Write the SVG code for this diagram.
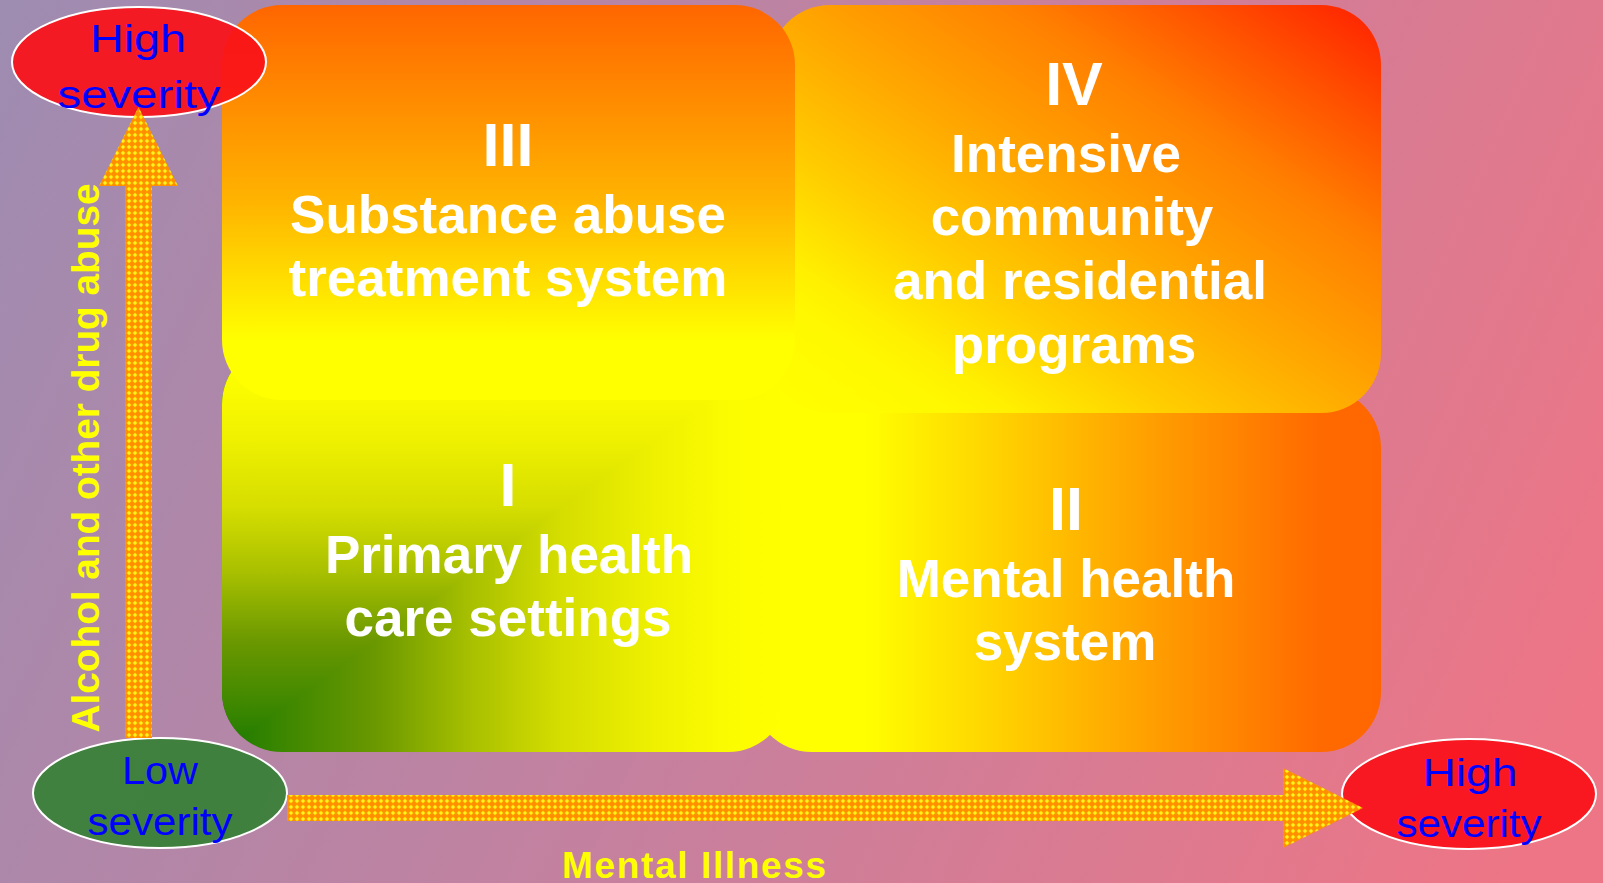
<svg xmlns="http://www.w3.org/2000/svg" width="1603" height="883" viewBox="0 0 1603 883">
<defs>
  <linearGradient id="bg" gradientUnits="userSpaceOnUse" x1="0" y1="0" x2="1603" y2="700">
    <stop offset="0" stop-color="#9E8CB1"/>
    <stop offset="0.5" stop-color="#C4819F"/>
    <stop offset="1" stop-color="#EE7585"/>
  </linearGradient>
  <linearGradient id="g3" x1="0" y1="0" x2="0" y2="1">
    <stop offset="0" stop-color="#FF6600"/>
    <stop offset="0.5" stop-color="#FFB400"/>
    <stop offset="0.85" stop-color="#FFFF00"/>
    <stop offset="1" stop-color="#FFFF00"/>
  </linearGradient>
  <linearGradient id="g4" x1="0" y1="1" x2="1" y2="0">
    <stop offset="0" stop-color="#FFFF00"/>
    <stop offset="0.15" stop-color="#FFF800"/>
    <stop offset="0.2" stop-color="#FFF000"/>
    <stop offset="0.33" stop-color="#FFCE00"/>
    <stop offset="0.5" stop-color="#FFA800"/>
    <stop offset="0.7" stop-color="#FF8000"/>
    <stop offset="0.85" stop-color="#FF5000"/>
    <stop offset="1" stop-color="#FF1E00"/>
  </linearGradient>
  <linearGradient id="g2" x1="0" y1="0" x2="1" y2="0">
    <stop offset="0" stop-color="#FFFF00"/>
    <stop offset="0.18" stop-color="#FFFF00"/>
    <stop offset="0.55" stop-color="#FFB000"/>
    <stop offset="0.9" stop-color="#FF6A00"/>
    <stop offset="1" stop-color="#FF6600"/>
  </linearGradient>
  <linearGradient id="g1h" gradientUnits="userSpaceOnUse" x1="222" y1="0" x2="788" y2="0">
    <stop offset="0" stop-color="#1A7800"/>
    <stop offset="0.1" stop-color="#3A8600"/>
    <stop offset="0.27" stop-color="#6A9800"/>
    <stop offset="0.44" stop-color="#A8C000"/>
    <stop offset="0.6" stop-color="#D6DE00"/>
    <stop offset="0.76" stop-color="#EEF000"/>
    <stop offset="0.9" stop-color="#FCFC00"/>
    <stop offset="1" stop-color="#FFFF00"/>
  </linearGradient>
  <linearGradient id="g1v" gradientUnits="userSpaceOnUse" x1="0" y1="752" x2="0" y2="344">
    <stop offset="0" stop-color="#1A7800"/>
    <stop offset="0.1" stop-color="#3A8600"/>
    <stop offset="0.27" stop-color="#6A9800"/>
    <stop offset="0.44" stop-color="#A8C000"/>
    <stop offset="0.6" stop-color="#D6DE00"/>
    <stop offset="0.76" stop-color="#EEF000"/>
    <stop offset="0.9" stop-color="#FCFC00"/>
    <stop offset="1" stop-color="#FFFF00"/>
  </linearGradient>
  <clipPath id="clip1">
    <rect x="222" y="344" width="566" height="408" rx="60" ry="60"/>
  </clipPath>
  <pattern id="hatch" width="6" height="6" patternUnits="userSpaceOnUse">
    <rect width="6" height="6" fill="#FF8E00"/>
    <path d="M3 0.5 L5.5 3 L3 5.5 L0.5 3 Z" fill="#FFE000"/>
    <rect x="2.3" y="2.3" width="1.4" height="1.4" fill="#FFFF50"/>
  </pattern>
  <style>
    .box-label { font-family: "Liberation Sans", Arial, sans-serif; font-weight: bold; fill: #FFFFFF; font-size: 53px; text-anchor: middle; }
    .num { font-size: 61px; }
    .ell-text { font-family: "Liberation Sans", Arial, sans-serif; fill: #0000FF; font-size: 38px; text-anchor: middle; }
    .ell { stroke: #FFFFFF; stroke-width: 2; }
    .red { fill: #FA1018; fill-opacity: 0.92; }
    .green { fill: #368036; fill-opacity: 0.92; }
    .axis { font-family: "Liberation Sans", Arial, sans-serif; font-weight: bold; fill: #FFFF00; text-anchor: middle; }
    .arrow { fill: url(#hatch); }
  </style>
</defs>

<rect x="0" y="0" width="1603" height="883" fill="url(#bg)"/>

<g id="box-II">
  <rect x="752" y="388" width="629" height="364" rx="60" ry="60" fill="url(#g2)"/>
  <text class="box-label num" x="1066" y="530">II</text>
  <text class="box-label" x="1066" y="597">Mental health</text>
  <text class="box-label" x="1065" y="660">system</text>
</g>

<g id="box-I">
  <rect x="222" y="344" width="566" height="408" rx="60" ry="60" fill="url(#g1h)"/>
  <polygon points="222,752 222,344 788,344" fill="url(#g1v)" clip-path="url(#clip1)"/>
  <text class="box-label num" x="508" y="506">I</text>
  <text class="box-label" x="509" y="573">Primary health</text>
  <text class="box-label" x="508" y="636">care settings</text>
</g>

<g id="box-IV">
  <rect x="770" y="5" width="611" height="408" rx="60" ry="60" fill="url(#g4)"/>
  <text class="box-label num" x="1074" y="105">IV</text>
  <text class="box-label" x="1066" y="172">Intensive</text>
  <text class="box-label" x="1072" y="235">community</text>
  <text class="box-label" x="1080" y="299">and residential</text>
  <text class="box-label" x="1074" y="363">programs</text>
</g>

<g id="box-III">
  <rect x="222" y="5" width="573" height="395" rx="60" ry="60" fill="url(#g3)"/>
  <text class="box-label num" x="508" y="166">III</text>
  <text class="box-label" x="508" y="233">Substance abuse</text>
  <text class="box-label" x="508" y="296">treatment system</text>
</g>

<g id="high-severity-aod">
  <ellipse class="ell red" cx="139" cy="62" rx="127" ry="55"/>
  <text class="ell-text" x="138" y="52" textLength="96" lengthAdjust="spacingAndGlyphs">High</text>
  <text class="ell-text" x="139" y="108" textLength="163" lengthAdjust="spacingAndGlyphs">severity</text>
</g>

<g id="low-severity">
  <ellipse class="ell green" cx="160" cy="793" rx="127" ry="55"/>
  <text class="ell-text" x="160" y="784" textLength="76" lengthAdjust="spacingAndGlyphs">Low</text>
  <text class="ell-text" x="160" y="835" textLength="145" lengthAdjust="spacingAndGlyphs">severity</text>
</g>

<g id="high-severity-mi">
  <ellipse class="ell red" cx="1469" cy="794" rx="127" ry="55"/>
  <text class="ell-text" x="1470" y="786" textLength="95" lengthAdjust="spacingAndGlyphs">High</text>
  <text class="ell-text" x="1469" y="837" textLength="145" lengthAdjust="spacingAndGlyphs">severity</text>
</g>

<g id="connectors">
  <path class="arrow" d="M125 738 L125 186 L99 186 L138.5 107 L178 186 L152 186 L152 738 Z"/>
  <path class="arrow" d="M287 795 L1283 795 L1283 768 L1363 808 L1283 848 L1283 821 L287 821 Z"/>
  <text class="axis" font-size="39" transform="translate(99 458) rotate(-90)" textLength="549" lengthAdjust="spacingAndGlyphs">Alcohol and other drug abuse</text>
  <text class="axis" font-size="37" x="694" y="878" textLength="264" lengthAdjust="spacing">Mental Illness</text>
</g>
</svg>
